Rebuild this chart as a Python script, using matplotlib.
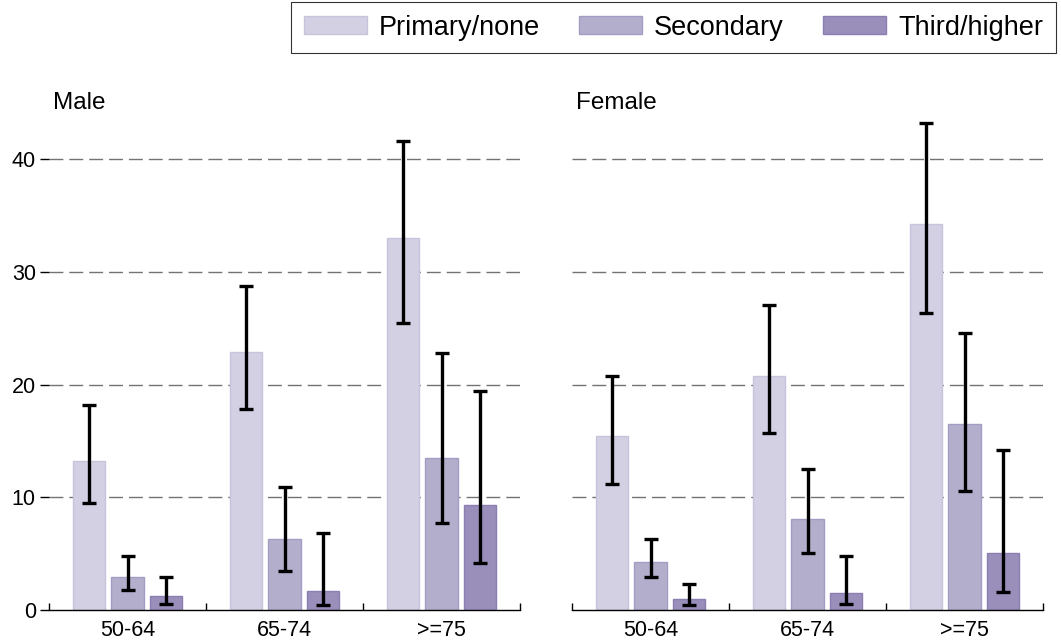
import matplotlib.pyplot as plt
import numpy as np
from matplotlib.patches import Patch

plt.rcParams['font.family'] = ['Liberation Sans', 'DejaVu Sans']

groups = ["50-64", "65-74", ">=75"]
levels = ["Primary/none", "Secondary", "Third/higher"]
colors = ["#d4d0e3", "#b4aecd", "#9a8fbb"]
edges = ["#c8c3dc", "#a49dc3", "#8a7fb0"]

# male: value, lower, upper per education level (rows) x age group (cols)
male_val = [[13.2, 22.9, 33.0], [2.9, 6.3, 13.5], [1.2, 1.7, 9.3]]
male_lo = [[9.5, 17.8, 25.5], [1.8, 3.5, 7.7], [0.5, 0.4, 4.2]]
male_hi = [[18.2, 28.8, 41.6], [4.8, 10.9, 22.8], [2.9, 6.8, 19.4]]

female_val = [[15.4, 20.8, 34.3], [4.3, 8.1, 16.5], [1.0, 1.5, 5.1]]
female_lo = [[11.2, 15.7, 26.4], [2.9, 5.1, 10.6], [0.45, 0.5, 1.6]]
female_hi = [[20.8, 27.1, 43.2], [6.3, 12.5, 24.6], [2.3, 4.8, 14.2]]

fig = plt.figure(figsize=(10.61, 6.42), dpi=100)
ax1 = fig.add_axes([49 / 1061, 32 / 642, 471 / 1061, 507 / 642])
ax2 = fig.add_axes([572 / 1061, 32 / 642, 471 / 1061, 507 / 642])

x = np.arange(len(groups))
width = 0.204
step = 0.248


def draw(ax, vals, lo, hi, title, show_y):
    for i in range(3):
        xs = x + (i - 1) * step
        v = np.array(vals[i])
        ax.bar(xs, v, width, color=colors[i], edgecolor=edges[i], linewidth=1, zorder=2)
        yerr = [v - np.array(lo[i]), np.array(hi[i]) - v]
        ax.errorbar(xs, v, yerr=yerr, fmt="none", ecolor="black", elinewidth=2.4,
                    capsize=4.8, capthick=2.4, zorder=3)
    for g in [10, 20, 30, 40]:
        ax.axhline(g, color="#737373", lw=1, ls=(0, (10, 4.3)), zorder=1)
    ax.set_xlim(-0.5, 2.5)
    ax.set_ylim(0, 45)
    for s in ["top", "right", "left"]:
        ax.spines[s].set_visible(False)
    ax.spines["bottom"].set_linewidth(1)
    ax.set_xticks(x)
    ax.set_xticklabels(groups, fontsize=15.5)
    ax.set_xticks([-0.5, 0.5, 1.5, 2.5], minor=True)
    ax.tick_params(axis="x", which="major", length=0, pad=7.5)
    ax.tick_params(axis="x", which="minor", direction="in", length=5, width=1)
    if show_y:
        ax.set_yticks([0, 10, 20, 30, 40])
        ax.tick_params(axis="y", direction="out", length=6.5, width=1, labelsize=15.5, pad=3)
    else:
        ax.set_yticks([])
    ax.text(0.0085, 1.0, title, transform=ax.transAxes, fontsize=17.5, va="center", ha="left")


draw(ax1, male_val, male_lo, male_hi, "Male", True)
draw(ax2, female_val, female_lo, female_hi, "Female", False)

handles = [Patch(facecolor=colors[i], edgecolor=edges[i], label=levels[i]) for i in range(3)]
leg = fig.legend(handles=handles, loc="upper right", bbox_to_anchor=(1056 / 1061, 1 - 2 / 642),
                 ncol=3, fontsize=19.5, frameon=True, fancybox=False, handlelength=2.33,
                 handleheight=0.67, columnspacing=1.45, handletextpad=0.44, borderpad=0.47,
                 borderaxespad=0)
leg.get_frame().set_edgecolor("black")
leg.get_frame().set_linewidth(0.8)

fig.savefig("out.png", dpi=100)
